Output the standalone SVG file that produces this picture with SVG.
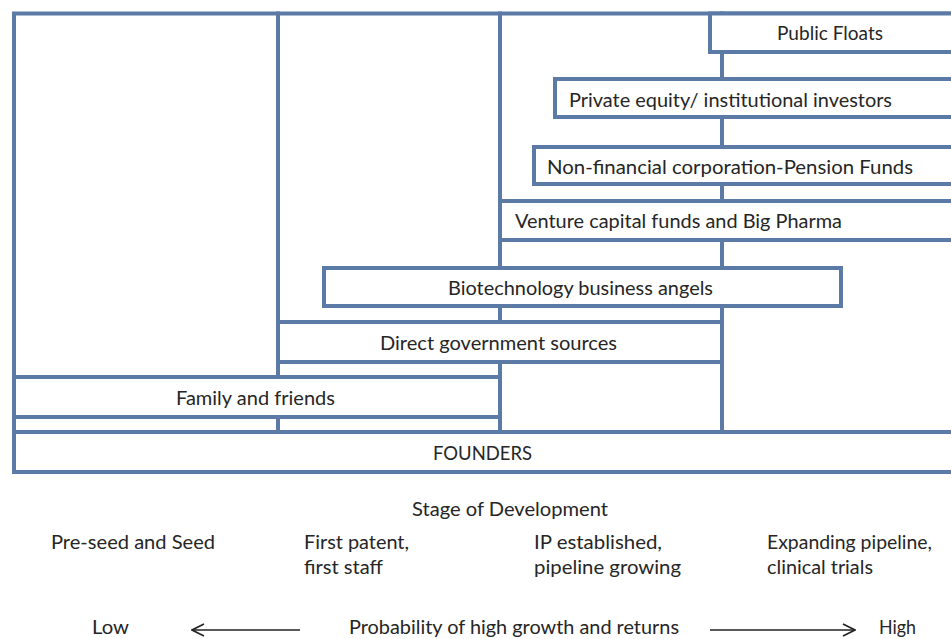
<svg xmlns="http://www.w3.org/2000/svg" width="951" height="639" viewBox="0 0 951 639">
  <style>
    .col, .box { fill: #ffffff; stroke: #5b7ba6; stroke-width: 4; }
    .lbl { font-family: Lato, "Liberation Sans", sans-serif; font-size: 18.5px; fill: #262626; }
    .arrow { stroke: #222222; stroke-width: 1.6; fill: none; }
  </style>
  <defs>
    <marker id="chev" viewBox="0 0 14 14" refX="13" refY="7" markerUnits="userSpaceOnUse" markerWidth="14" markerHeight="14" orient="auto-start-reverse">
      <path d="M1,1 L13,7 L1,13" fill="none" stroke="#222222" stroke-width="1.6"/>
    </marker>
  </defs>
  <rect x="0" y="0" width="951" height="639" fill="#ffffff"/>

  <g id="columns">
    <rect class="col" x="14" y="13.5" width="264" height="418.5"/>
    <rect class="col" x="278" y="13.5" width="222" height="418.5"/>
    <rect class="col" x="500" y="13.5" width="222" height="418.5"/>
    <rect class="col" x="722" y="13.5" width="240" height="418.5"/>
  </g>

  <g id="public-floats">
    <rect class="box" x="710" y="13.5" width="252" height="38.5"/>
    <text class="lbl" x="777" y="40" textLength="106" lengthAdjust="spacingAndGlyphs">Public Floats</text>
  </g>
  <g id="private-equity">
    <rect class="box" x="555" y="79" width="407" height="38"/>
    <text class="lbl" x="569" y="107" textLength="323" lengthAdjust="spacingAndGlyphs">Private equity/ institutional investors</text>
  </g>
  <g id="non-financial">
    <rect class="box" x="534" y="147" width="428" height="37"/>
    <text class="lbl" x="547" y="174" textLength="366" lengthAdjust="spacingAndGlyphs">Non-financial corporation-Pension Funds</text>
  </g>
  <g id="venture-capital">
    <rect class="box" x="500" y="201" width="462" height="39"/>
    <text class="lbl" x="515" y="228" textLength="327" lengthAdjust="spacingAndGlyphs">Venture capital funds and Big Pharma</text>
  </g>
  <g id="business-angels">
    <rect class="box" x="324" y="268" width="517" height="38"/>
    <text class="lbl" x="448" y="295" textLength="265" lengthAdjust="spacingAndGlyphs">Biotechnology business angels</text>
  </g>
  <g id="government">
    <rect class="box" x="278" y="322" width="444" height="40"/>
    <text class="lbl" x="380" y="350" textLength="237" lengthAdjust="spacingAndGlyphs">Direct government sources</text>
  </g>
  <g id="family">
    <rect class="box" x="14" y="377" width="486" height="40"/>
    <text class="lbl" x="176" y="405" textLength="159" lengthAdjust="spacingAndGlyphs">Family and friends</text>
  </g>
  <g id="founders">
    <rect class="box" x="14" y="432" width="948" height="40"/>
    <text class="lbl" x="433" y="460" textLength="99" lengthAdjust="spacingAndGlyphs">FOUNDERS</text>
  </g>

  <g id="stages">
    <text class="lbl" x="412" y="516" textLength="196" lengthAdjust="spacingAndGlyphs">Stage of Development</text>
    <text class="lbl" x="51" y="549" textLength="164" lengthAdjust="spacingAndGlyphs">Pre-seed and Seed</text>
    <text class="lbl" x="304" y="549" textLength="105" lengthAdjust="spacingAndGlyphs">First patent,</text>
    <text class="lbl" x="304" y="574" textLength="79" lengthAdjust="spacingAndGlyphs">first staff</text>
    <text class="lbl" x="534" y="549" textLength="128" lengthAdjust="spacingAndGlyphs">IP established,</text>
    <text class="lbl" x="534" y="574" textLength="147" lengthAdjust="spacingAndGlyphs">pipeline growing</text>
    <text class="lbl" x="767" y="549" textLength="165" lengthAdjust="spacingAndGlyphs">Expanding pipeline,</text>
    <text class="lbl" x="767" y="574" textLength="106" lengthAdjust="spacingAndGlyphs">clinical trials</text>
  </g>

  <g id="probability">
    <text class="lbl" x="92" y="634" textLength="37" lengthAdjust="spacingAndGlyphs">Low</text>
    <text class="lbl" x="349" y="634" textLength="330" lengthAdjust="spacingAndGlyphs">Probability of high growth and returns</text>
    <text class="lbl" x="879" y="634" textLength="37" lengthAdjust="spacingAndGlyphs">High</text>
  </g>

  <g id="connectors">
    <line class="arrow" x1="300" y1="630" x2="192" y2="630" marker-end="url(#chev)"/>
    <line class="arrow" x1="710" y1="630" x2="855" y2="630" marker-end="url(#chev)"/>
  </g>
</svg>
